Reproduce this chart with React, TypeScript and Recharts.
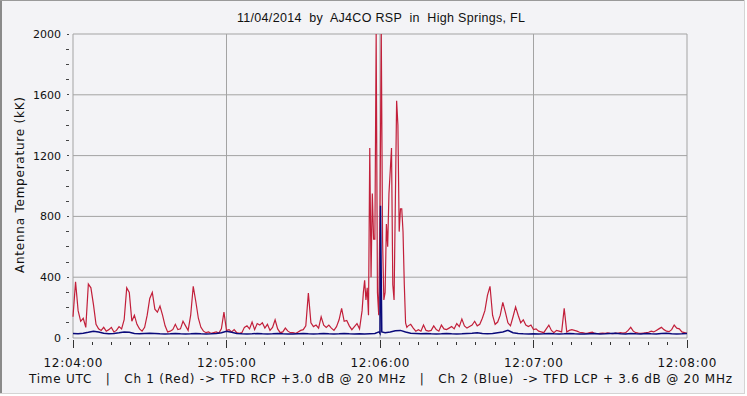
import React from 'react';
import { LineChart, Line, XAxis, YAxis, CartesianGrid } from 'recharts';

// ---- data ----
// Ch 1 (red), one sample per second from 12:04:00 (t = 0 .. 113 s)
const redEarly = [
  140, 370, 180, 110, 130, 70, 355, 330, 220, 90,
  60, 50, 70, 45, 55, 70, 40, 50, 75, 60,
  120, 330, 300, 110, 150, 90, 60, 45, 70, 150,
  260, 300, 190, 170, 210, 150, 80, 40, 45, 55,
  90, 55, 60, 110, 80, 50, 150, 340, 240, 130,
  70, 45, 35, 40, 30, 35, 40, 32, 60, 170,
  50, 55, 40, 55, 35, 30, 35, 70, 80, 60,
  105, 55, 95, 85, 100, 65, 90, 50, 70, 120,
  60, 35, 40, 65, 45, 35, 35, 30, 40, 50,
  55, 80, 295, 100, 75, 85, 65, 140, 85, 70,
  85, 65, 50, 75, 120, 195, 110, 115, 80, 55,
  75, 95, 60, 180,
];
// Ch 1 burst, one sample per half second (t = 113.5 .. 131 s)
const redBurst = [
  300, 380, 250, 330, 150, 1250, 400, 950, 650, 650,
  2000, 300, 150, 850, 2000, 650, 250, 300, 750, 600,
  950, 1100, 1250, 350, 250, 900, 1560, 1400, 700, 850,
  850, 700, 350, 100, 70, 80,
];
// Ch 1, one sample per second (t = 132 .. 240 s)
const redLate = [
  90, 65, 45, 55, 45, 85, 50, 45,
  50, 80, 55, 45, 85, 60, 55, 65, 75, 60,
  95, 75, 125, 80, 65, 75, 85, 110, 80, 90,
  130, 180, 280, 340, 150, 90, 105, 150, 235, 170,
  100, 80, 140, 205, 150, 100, 120, 85, 75, 85,
  55, 60, 45, 40, 35, 60, 85, 50, 35, 50,
  45, 40, 195, 40, 50, 55, 50, 45, 38, 35,
  32, 30, 35, 38, 30, 28, 30, 32, 30, 33,
  30, 28, 32, 30, 35, 32, 35, 50, 70, 45,
  35, 32, 30, 33, 35, 38, 45, 40, 50, 60,
  70, 55, 45, 42, 55, 85, 65, 60, 40, 35, 30,
];
// Ch 2 (blue), one sample every two seconds (t = 0 .. 240 s)
const blueValues = [
  30, 28, 32, 38, 45, 40, 32, 28, 30, 34,
  40, 38, 30, 28, 30, 32, 30, 28, 27, 28,
  30, 28, 27, 28, 30, 28, 27, 28, 30, 35,
  45, 38, 30, 28, 27, 28, 30, 28, 27, 28,
  30, 28, 27, 26, 28, 30, 28, 27, 28, 30,
  28, 27, 28, 30, 28, 27, 28, 26, 28, 30,
  30, 35, 40, 48, 50, 40, 32, 30, 28, 30,
  28, 27, 28, 30, 28, 27, 28, 30, 32, 35,
  30, 28, 30, 35, 40, 50, 35, 30, 28, 27,
  28, 27, 28, 30, 28, 27, 28, 30, 28, 27,
  26, 28, 30, 27, 28, 30, 32, 28, 27, 30,
  28, 27, 30, 28, 27, 30, 32, 28, 27, 28,
  30,
];
// Ch 2 short spike [seconds, kK]
const blueBurst: [number, number][] = [
  [119.6, 40],
  [120.2, 870],
  [120.7, 40],
];

const xMajorTicks = [0, 60, 120, 180, 240];
const xTickLabels = ['12:04:00', '12:05:00', '12:06:00', '12:07:00', '12:08:00'];
const xMinorTicks = [
  0, 7.5, 15, 22.5, 30, 37.5, 45, 52.5, 60, 67.5, 75, 82.5, 90, 97.5, 105, 112.5,
  120, 127.5, 135, 142.5, 150, 157.5, 165, 172.5, 180, 187.5, 195, 202.5, 210, 217.5,
  225, 232.5, 240,
];
const yMajorTicks = [0, 400, 800, 1200, 1600, 2000];
const yMinorTicks = [
  0, 100, 200, 300, 400, 500, 600, 700, 800, 900, 1000, 1100, 1200, 1300, 1400,
  1500, 1600, 1700, 1800, 1900, 2000,
];

const titleText = '11/04/2014  by  AJ4CO RSP  in  High Springs, FL';
const yLabelText = 'Antenna Temperature (kK)';
const footerText =
  'Time UTC   |   Ch 1 (Red) -> TFD RCP +3.0 dB @ 20 MHz   |   Ch 2 (Blue)  -> TFD LCP + 3.6 dB @ 20 MHz';

// ---- build table ----
type Row = { t: number; red?: number; blue?: number };
const rowMap = new Map<number, Row>();
const put = (t: number, key: 'red' | 'blue', v: number) => {
  const k = Math.round(t * 100) / 100;
  const r = rowMap.get(k) || { t: k };
  r[key] = v;
  rowMap.set(k, r);
};
redEarly.forEach((v, i) => put(i, 'red', v));
redBurst.forEach((v, i) => put(113.5 + i * 0.5, 'red', v));
redLate.forEach((v, i) => put(132 + i, 'red', v));
blueValues.forEach((v, i) => put(i * 2, 'blue', v));
blueBurst.forEach(([t, v]) => put(t, 'blue', v));
const rows = Array.from(rowMap.values()).sort((a, b) => a.t - b.t);

const BG = '#f3f3f6';
const TICK_FONT = '"DejaVu Sans", Verdana, sans-serif';

const XTick = (props: any) => {
  const { x, y, payload } = props;
  const idx = xMajorTicks.indexOf(payload.value);
  const major = idx >= 0;
  return (
    <g>
      <line
        x1={x}
        x2={x}
        y1={y + (major ? 2 : 4)}
        y2={y + (major ? 10 : 7)}
        stroke="#333"
        strokeWidth={1}
        shapeRendering="crispEdges"
      />
      {major && (
        <text
          x={x}
          y={y + 28.5}
          textAnchor="middle"
          fontFamily={TICK_FONT}
          fontSize={12}
          fill="#111"
          textLength={59}
          lengthAdjust="spacing"
        >
          {xTickLabels[idx]}
        </text>
      )}
    </g>
  );
};

const YTick = (props: any) => {
  const { x, y, payload } = props;
  const major = yMajorTicks.includes(payload.value);
  return (
    <g>
      <line
        x1={x - (major ? 6 : 7)}
        x2={x - 4}
        y1={y}
        y2={y}
        stroke="#444"
        strokeWidth={1}
        shapeRendering="crispEdges"
      />
      {major && (
        <text
          x={x - 12}
          y={y + 4}
          textAnchor="end"
          fontFamily={TICK_FONT}
          fontSize={11}
          fill="#111"
        >
          {payload.value}
        </text>
      )}
    </g>
  );
};

export default function App() {
  return (
    <div
      style={{
        position: 'fixed',
        left: 0,
        top: 0,
        width: 747,
        height: 396,
        background: BG,
        overflow: 'hidden',
      }}
    >
      <LineChart
        width={747}
        height={396}
        data={rows}
        margin={{ top: 34, right: 60, bottom: 0, left: 0 }}
      >
        <CartesianGrid
          stroke="#a3a3a3"
          strokeWidth={1}
          horizontalValues={yMajorTicks}
          verticalValues={xMajorTicks}
        />
        <XAxis
          dataKey="t"
          type="number"
          domain={[0, 240]}
          ticks={xMinorTicks}
          interval={0}
          height={58}
          tickSize={0}
          tickMargin={0}
          tickLine={false}
          axisLine={false}
          tick={<XTick />}
        />
        <YAxis
          type="number"
          domain={[0, 2000]}
          ticks={yMinorTicks}
          interval={0}
          width={73}
          tickSize={0}
          tickMargin={0}
          tickLine={false}
          axisLine={false}
          tick={<YTick />}
          allowDataOverflow
        />
        <Line
          dataKey="red"
          stroke="#c21f3a"
          strokeWidth={1.2}
          dot={false}
          connectNulls
          isAnimationActive={false}
        />
        <Line
          dataKey="blue"
          stroke="#0a0a7a"
          strokeWidth={1.5}
          dot={false}
          connectNulls
          isAnimationActive={false}
        />
      </LineChart>
      <svg
        width={747}
        height={396}
        style={{ position: 'absolute', left: 0, top: 0, pointerEvents: 'none' }}
      >
        <text
          x={237}
          y={21.5}
          fontFamily='"Liberation Sans", Arial, sans-serif'
          fontSize={12.5}
          fill="#111"
          textLength={288}
          lengthAdjust="spacing"
          style={{ whiteSpace: 'pre' }}
        >
          {titleText}
        </text>
        <text
          x={0}
          y={0}
          transform="translate(23.5 185) rotate(-90)"
          textAnchor="middle"
          fontFamily={TICK_FONT}
          fontSize={12}
          fill="#111"
          textLength={176}
          lengthAdjust="spacing"
        >
          {yLabelText}
        </text>
        <text
          x={29}
          y={383}
          fontFamily={TICK_FONT}
          fontSize={12}
          fill="#111"
          textLength={703}
          lengthAdjust="spacing"
          style={{ whiteSpace: 'pre' }}
        >
          {footerText}
        </text>
        <line x1={1} x2={1} y1={0} y2={394} stroke="#8a8a8a" strokeWidth={2} />
        <line x1={0} x2={745} y1={0.5} y2={0.5} stroke="#9a9a9a" strokeWidth={1} />
        <line x1={744.5} x2={744.5} y1={0} y2={394} stroke="#d4d4d4" strokeWidth={1} />
        <line x1={0} x2={745} y1={393.5} y2={393.5} stroke="#d4d4d4" strokeWidth={1} />
        <rect x={745} y={0} width={2} height={396} fill="#ffffff" />
        <rect x={0} y={394} width={747} height={2} fill="#ffffff" />
      </svg>
    </div>
  );
}
